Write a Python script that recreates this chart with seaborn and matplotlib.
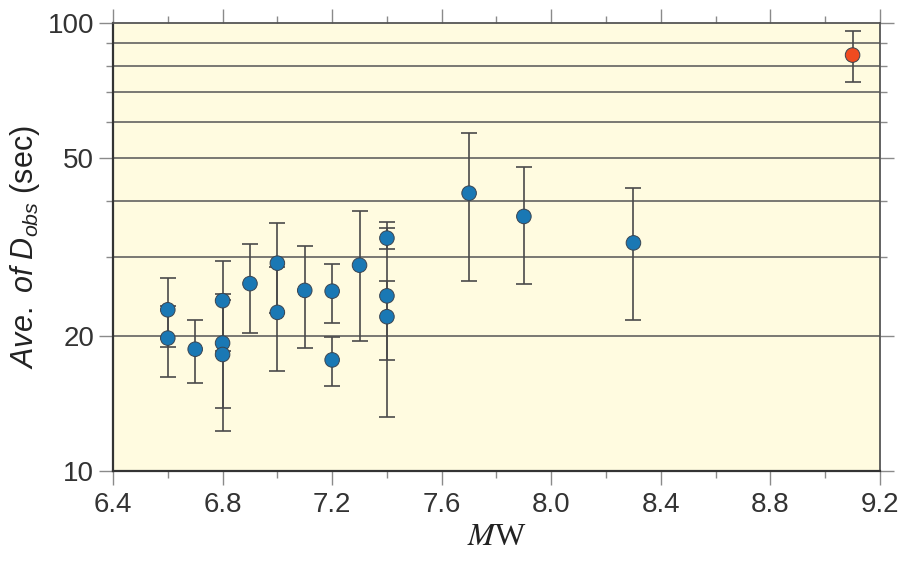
import numpy as np
import pandas as pd
import matplotlib
matplotlib.use("Agg")
import matplotlib.pyplot as plt
import matplotlib.ticker as mticker
import seaborn as sns

# ------------------------------------------------------------
# Données
# ------------------------------------------------------------
mw = [6.6, 6.6, 6.7, 6.8, 6.8, 6.8, 6.9, 7.0, 7.0, 7.1,
      7.2, 7.2, 7.3, 7.4, 7.4, 7.4, 7.7, 7.9, 8.3, 9.1]
d_obs = [22.9, 19.8, 18.7, 24.0, 19.3, 18.2, 26.2, 29.1, 22.6, 25.3,
         25.2, 17.7, 28.8, 33.1, 24.6, 22.1, 41.7, 37.0, 32.3, 84.8]
d_err = [4.0, 3.6, 3.0, 5.5, 5.5, 5.9, 5.9, 6.6, 5.9, 6.5,
         3.8, 2.25, 9.3, 1.8, 11.4, 4.4, 15.2, 10.8, 10.6, 11.0]
group = ["other"] * 19 + ["largest"]

df = pd.DataFrame({"Mw": mw, "D": d_obs, "err": d_err, "group": group})

# ------------------------------------------------------------
# Style
# ------------------------------------------------------------
sns.set_theme(style="ticks")
plt.rcParams["font.family"] = ["Liberation Sans", "DejaVu Sans"]
plt.rcParams["mathtext.fontset"] = "custom"
plt.rcParams["mathtext.rm"] = "Liberation Sans"
plt.rcParams["mathtext.it"] = "Liberation Sans:italic"

fig = plt.figure(figsize=(9.07, 5.62), dpi=100)
ax = fig.add_axes([0.1246, 0.1619, 0.8456, 0.7972])
ax.set_facecolor("#fffbe0")

ax.set_yscale("log")
ax.set_xlim(6.4, 9.2)
ax.set_ylim(10, 100)

# lignes horizontales
for v in [20, 30, 40, 50, 60, 70, 80, 90]:
    ax.axhline(v, color="#555555", lw=1.1, zorder=1)

# barres d'erreur
ax.errorbar(df["Mw"], df["D"], yerr=df["err"], fmt="none",
            ecolor="#4a4a4a", elinewidth=1.2, capsize=6, capthick=1.2, zorder=2)

sns.scatterplot(data=df, x="Mw", y="D", hue="group",
                palette={"other": "#1a78b4", "largest": "#f04b20"},
                s=110, edgecolor="#3a4450", linewidth=0.7, legend=False,
                zorder=3, ax=ax)

# ticks
ax.xaxis.set_major_locator(mticker.MultipleLocator(0.4))
ax.xaxis.set_minor_locator(mticker.MultipleLocator(0.2))
ax.xaxis.set_major_formatter(mticker.FormatStrFormatter("%.1f"))
ax.yaxis.set_major_locator(mticker.FixedLocator([10, 20, 50, 100]))
ax.yaxis.set_major_formatter(mticker.FixedFormatter(["10", "20", "50", "100"]))
ax.yaxis.set_minor_locator(mticker.FixedLocator([30, 40, 60, 70, 80, 90]))
ax.yaxis.set_minor_formatter(mticker.NullFormatter())

ax.tick_params(which="both", direction="out", top=True, right=True,
               color="#8a8a8a", width=1.0, labelsize=20, labelcolor="#333333")
ax.tick_params(which="major", length=10)
ax.tick_params(which="minor", length=5)
ax.tick_params(axis="x", pad=5)

for side in ["left", "bottom"]:
    ax.spines[side].set_color("#333333")
    ax.spines[side].set_linewidth(1.6)
for side in ["top", "right"]:
    ax.spines[side].set_color("#555555")
    ax.spines[side].set_linewidth(1.3)

ax.set_ylabel(r"$\mathit{Ave.\ of\ D_{obs}}$ (sec)", fontsize=22, color="#222222",
              labelpad=4)
ax.set_xlabel(r"$\mathit{M}$W", fontsize=23, color="#222222",
              family="Liberation Serif", math_fontfamily="stix", labelpad=4)

fig.savefig("out.png", dpi=100)
